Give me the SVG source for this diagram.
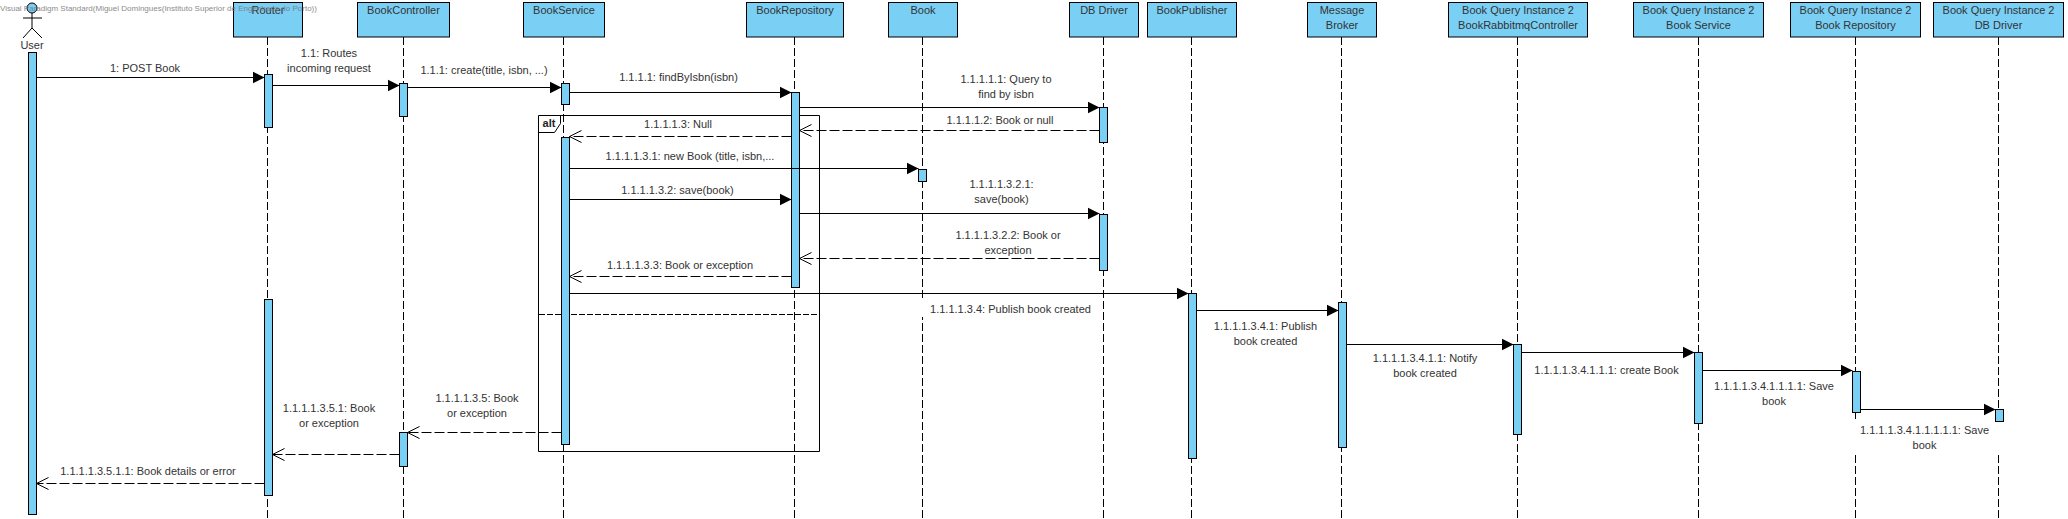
<svg xmlns="http://www.w3.org/2000/svg" width="2068" height="519" viewBox="0 0 2068 519">
<style>
text{font-family:"Liberation Sans",Arial,sans-serif;font-size:11px;fill:#333;text-anchor:middle}
.box,.act,.head{fill:#7ACFF5;stroke:#000;stroke-width:1}
.ll{stroke:#000;stroke-width:1;stroke-dasharray:8 3;fill:none}
.sync{stroke:#000;stroke-width:1;fill:none;marker-end:url(#solid)}
.ret{stroke:#000;stroke-width:1;stroke-dasharray:10 3;fill:none;marker-end:url(#open)}
.frame{fill:none;stroke:#000;stroke-width:1}
.div{stroke:#000;stroke-width:1;stroke-dasharray:6 2;fill:none}
.mask{fill:#fff}
.wm{font-size:8px;fill:#777;text-anchor:start;opacity:.85}
.bold{font-weight:bold;fill:#222}
</style>
<defs>
<marker id="solid" markerUnits="userSpaceOnUse" markerWidth="14" markerHeight="14" refX="12" refY="7" orient="auto"><path d="M0 1L12 7L0 13Z" fill="#000"/></marker>
<marker id="open" markerUnits="userSpaceOnUse" markerWidth="14" markerHeight="14" refX="13" refY="7" orient="auto"><path d="M1 1L13 7L1 13" fill="none" stroke="#000" stroke-width="1"/></marker>
</defs>
<rect width="2068" height="519" fill="#fff"/>
<g id="lifelines">
<path class="ll" d="M267.5 37V519"/><path class="ll" d="M403.5 37V519"/><path class="ll" d="M563.5 37V519"/><path class="ll" d="M794.5 37V519"/><path class="ll" d="M922.5 37V519"/><path class="ll" d="M1103.5 37V519"/><path class="ll" d="M1191.5 37V519"/><path class="ll" d="M1341.5 37V519"/><path class="ll" d="M1517.5 37V519"/><path class="ll" d="M1698.5 37V519"/><path class="ll" d="M1855.5 37V519"/><path class="ll" d="M1998.5 37V519"/>
</g>
<g id="label-masks">
<rect class="mask" x="918" y="298" width="176" height="19"/>
<rect class="mask" x="1850" y="420" width="152" height="32"/>
</g>
<g id="alt-frame">
<path class="frame" d="M538.5 115.5H819.5V451.5H538.5Z"/>
<path class="frame" d="M538.5 132.5H554.5L560.5 123.5V115.5"/>
<path class="div" d="M539 314.5H817"/>
<text class="bold" x="549" y="127">alt</text>
</g>
<g id="user">
<circle class="head" cx="32" cy="8" r="5"/>
<path d="M32 13V28M23 18H42M32 28L23 38M32 28L42 38" fill="none" stroke="#000" stroke-width="1"/>
<text x="32" y="49">User</text>
<rect class="act" x="28.5" y="52.5" width="8" height="462"/>
</g>
<g id="router">
<rect class="box" x="233.5" y="2.5" width="69" height="34.5"/><text x="268" y="14">Router</text>
<rect class="act" x="264.5" y="74.5" width="8" height="53"/>
<rect class="act" x="264.5" y="299.5" width="8" height="196"/>
</g>
<g id="book-controller">
<rect class="box" x="357.5" y="2.5" width="92" height="34.5"/><text x="403.5" y="14">BookController</text>
<rect class="act" x="399.5" y="83.5" width="8" height="33"/>
<rect class="act" x="399.5" y="432.5" width="8" height="34"/>
</g>
<g id="book-service">
<rect class="box" x="523.5" y="2.5" width="81" height="34.5"/><text x="564" y="14">BookService</text>
<rect class="act" x="561.5" y="83.5" width="8" height="21"/>
<rect class="act" x="561.5" y="137.5" width="8" height="307"/>
</g>
<g id="book-repository">
<rect class="box" x="746.5" y="2.5" width="97" height="34.5"/><text x="795" y="14">BookRepository</text>
<rect class="act" x="791.5" y="92.5" width="8" height="195"/>
</g>
<g id="book">
<rect class="box" x="888.5" y="2.5" width="69" height="34.5"/><text x="923" y="14">Book</text>
<rect class="act" x="918.5" y="169.5" width="8" height="12"/>
</g>
<g id="db-driver">
<rect class="box" x="1069.5" y="2.5" width="69" height="34.5"/><text x="1104" y="14">DB Driver</text>
<rect class="act" x="1099.5" y="107.5" width="8" height="35"/>
<rect class="act" x="1099.5" y="214.5" width="8" height="56"/>
</g>
<g id="book-publisher">
<rect class="box" x="1147.5" y="2.5" width="89" height="34.5"/><text x="1192" y="14">BookPublisher</text>
<rect class="act" x="1188.5" y="293.5" width="8" height="165"/>
</g>
<g id="message-broker">
<rect class="box" x="1307.5" y="2.5" width="69" height="34.5"/><text x="1342" y="14">Message</text><text x="1342" y="29">Broker</text>
<rect class="act" x="1338.5" y="302.5" width="8" height="145"/>
</g>
<g id="bq-controller">
<rect class="box" x="1448.5" y="2.5" width="139" height="34.5"/><text x="1518" y="14">Book Query Instance 2</text><text x="1518" y="29">BookRabbitmqController</text>
<rect class="act" x="1513.5" y="344.5" width="8" height="90"/>
</g>
<g id="bq-service">
<rect class="box" x="1633.5" y="2.5" width="130" height="34.5"/><text x="1698.5" y="14">Book Query Instance 2</text><text x="1698.5" y="29">Book Service</text>
<rect class="act" x="1694.5" y="352.5" width="8" height="71"/>
</g>
<g id="bq-repository">
<rect class="box" x="1790.5" y="2.5" width="130" height="34.5"/><text x="1855.5" y="14">Book Query Instance 2</text><text x="1855.5" y="29">Book Repository</text>
<rect class="act" x="1852.5" y="371.5" width="8" height="41"/>
</g>
<g id="bq-db-driver">
<rect class="box" x="1933.5" y="2.5" width="130" height="34.5"/><text x="1998.5" y="14">Book Query Instance 2</text><text x="1998.5" y="29">DB Driver</text>
<rect class="act" x="1995.5" y="409.5" width="8" height="12"/>
</g>
<g id="connectors">
<path class="sync" d="M36.5 77.5H264.5"/>
<path class="sync" d="M272.5 85.5H399.5"/>
<path class="sync" d="M407.5 87.5H561.5"/>
<path class="sync" d="M569.5 92.5H791.5"/>
<path class="sync" d="M799.5 107.5H1099.5"/>
<path class="ret" d="M1099.5 130.5H799.5"/>
<path class="ret" d="M791.5 136.5H569.5"/>
<path class="sync" d="M569.5 168.5H918.5"/>
<path class="sync" d="M569.5 199.5H791.5"/>
<path class="sync" d="M799.5 213.5H1099.5"/>
<path class="ret" d="M1099.5 258.5H799.5"/>
<path class="ret" d="M791.5 276.5H569.5"/>
<path class="sync" d="M569.5 293.5H1188.5"/>
<path class="sync" d="M1196.5 310.5H1338.5"/>
<path class="sync" d="M1346.5 344.5H1513.5"/>
<path class="sync" d="M1521.5 352.5H1694.5"/>
<path class="sync" d="M1702.5 370.5H1852.5"/>
<path class="sync" d="M1860.5 409.5H1995.5"/>
<path class="ret" d="M561.5 432.5H407.5"/>
<path class="ret" d="M399.5 454.5H272.5"/>
<path class="ret" d="M264.5 483.5H36.5"/>
</g>
<g id="labels">
<text x="145" y="72">1: POST Book</text>
<text x="329" y="57">1.1: Routes</text><text x="329" y="72">incoming request</text>
<text x="484" y="74">1.1.1: create(title, isbn, ...)</text>
<text x="678.5" y="81">1.1.1.1: findByIsbn(isbn)</text>
<text x="1006" y="83">1.1.1.1.1: Query to</text><text x="1006" y="98">find by isbn</text>
<text x="1000" y="124">1.1.1.1.2: Book or null</text>
<text x="678" y="128">1.1.1.1.3: Null</text>
<text x="690" y="160">1.1.1.1.3.1: new Book (title, isbn,...</text>
<text x="677.5" y="194">1.1.1.1.3.2: save(book)</text>
<text x="1001.5" y="188">1.1.1.1.3.2.1:</text><text x="1001.5" y="203">save(book)</text>
<text x="1008" y="239">1.1.1.1.3.2.2: Book or</text><text x="1008" y="254">exception</text>
<text x="680" y="269">1.1.1.1.3.3: Book or exception</text>
<text x="1010.5" y="313">1.1.1.1.3.4: Publish book created</text>
<text x="1265.5" y="330">1.1.1.1.3.4.1: Publish</text><text x="1265.5" y="345">book created</text>
<text x="1425" y="362">1.1.1.1.3.4.1.1: Notify</text><text x="1425" y="377">book created</text>
<text x="1606.5" y="374">1.1.1.1.3.4.1.1.1: create Book</text>
<text x="1774" y="390">1.1.1.1.3.4.1.1.1.1: Save</text><text x="1774" y="405">book</text>
<text x="1924.5" y="434">1.1.1.1.3.4.1.1.1.1.1: Save</text><text x="1924.5" y="449">book</text>
<text x="477" y="402">1.1.1.1.3.5: Book</text><text x="477" y="417">or exception</text>
<text x="329" y="412">1.1.1.1.3.5.1: Book</text><text x="329" y="427">or exception</text>
<text x="148" y="475">1.1.1.1.3.5.1.1: Book details or error</text>
</g>
<text class="wm" x="0" y="11">Visual Paradigm Standard(Miguel Domingues(Instituto Superior de Engenharia do Porto))</text>
</svg>
